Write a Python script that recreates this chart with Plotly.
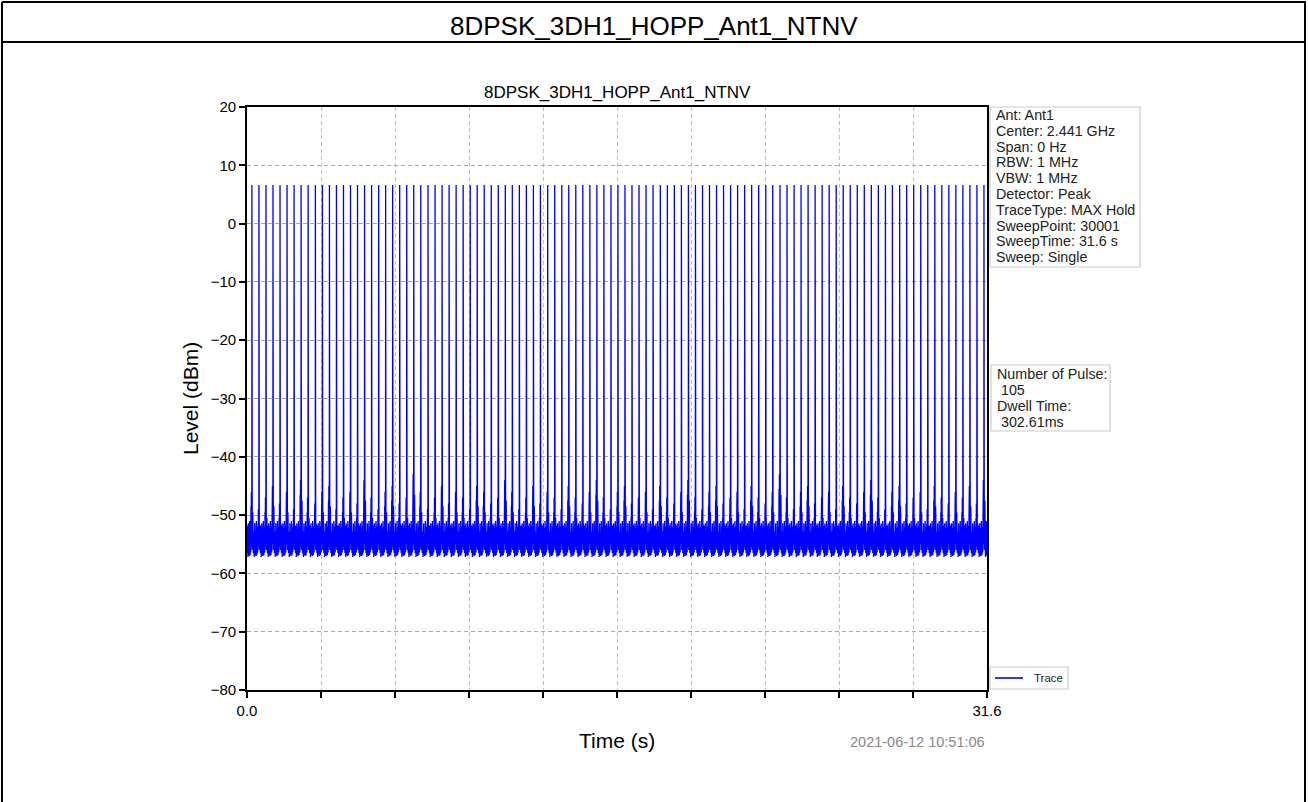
import numpy as np
import plotly.graph_objects as go

# ---------------- data ----------------
chart_title = "8DPSK_3DH1_HOPP_Ant1_NTNV"
x_range = [0.0, 31.6]
y_range = [-80, 20]
x_tick_vals = [0.0, 3.16, 6.32, 9.48, 12.64, 15.8, 18.96, 22.12, 25.28, 28.44, 31.6]
x_tick_text = ["0.0", "", "", "", "", "", "", "", "", "", "31.6"]
y_tick_vals = [20, 10, 0, -10, -20, -30, -40, -50, -60, -70, -80]

pulse_times = [
    0.21, 0.51, 0.81, 1.11, 1.41, 1.71, 2.01, 2.31, 2.61, 2.92,
    3.22, 3.52, 3.82, 4.12, 4.42, 4.72, 5.02, 5.32, 5.62, 5.92,
    6.22, 6.52, 6.82, 7.12, 7.42, 7.73, 8.03, 8.33, 8.63, 8.93,
    9.23, 9.53, 9.83, 10.13, 10.43, 10.73, 11.03, 11.33, 11.63, 11.93,
    12.23, 12.53, 12.84, 13.14, 13.44, 13.74, 14.04, 14.34, 14.64, 14.94,
    15.24, 15.54, 15.84, 16.14, 16.44, 16.74, 17.04, 17.34, 17.65, 17.95,
    18.25, 18.55, 18.85, 19.15, 19.45, 19.75, 20.05, 20.35, 20.65, 20.95,
    21.25, 21.55, 21.85, 22.15, 22.45, 22.76, 23.06, 23.36, 23.66, 23.96,
    24.26, 24.56, 24.86, 25.16, 25.46, 25.76, 26.06, 26.36, 26.66, 26.96,
    27.26, 27.56, 27.87, 28.17, 28.47, 28.77, 29.07, 29.37, 29.67, 29.97,
    30.27, 30.57, 30.87, 31.17, 31.47,
]
pulse_peak_dbm = 6.6
shoulder_dbm = [
    -47, -50, -48, -46, -49, -47, -50, -45, -48, -49,
    -47, -46, -50, -48, -47, -49, -45, -48, -50, -47,
    -46, -49, -48, -44, -47, -50, -48, -46, -49, -47,
    -48, -50, -46, -47, -49, -48, -45, -47, -50, -48,
    -46, -49, -47, -48, -50, -46, -48, -49, -47, -45,
    -48, -50, -47, -46, -49, -48, -47, -50, -46, -48,
    -49, -47, -45, -48, -50, -47, -46, -49, -48, -47,
    -50, -46, -48, -49, -47, -44, -48, -50, -47, -46,
    -49, -48, -47, -50, -46, -48, -49, -47, -45, -48,
    -50, -47, -46, -49, -48, -47, -50, -46, -48, -49,
    -47, -48, -46, -49, -45,
]
floor_pattern_dbm = [-53.0, -56.5, -51.8, -55.8, -52.8, -57.2, -53.6, -55.0,
                     -51.4, -56.8, -52.4, -55.4, -53.4, -57.0, -52.2, -56.0,
                     -51.0, -55.6, -53.0, -56.9, -52.0, -55.2, -52.6, -56.4]
info_lines = ["Ant: Ant1", "Center: 2.441 GHz", "Span: 0 Hz", "RBW: 1 MHz",
              "VBW: 1 MHz", "Detector: Peak", "TraceType: MAX Hold",
              "SweepPoint: 30001", "SweepTime: 31.6 s", "Sweep: Single"]
pulse_lines = ["Number of Pulse:", " 105", "Dwell Time:", " 302.61ms"]
timestamp = "2021-06-12 10:51:06"
trace_name = "Trace"

# ---------------- build trace vertices from the lists ----------------
tx, ty = [], []


def add_floor(t_start, t_end):
    if t_end <= t_start:
        return
    pos = np.linspace(t_start, t_end, len(floor_pattern_dbm) + 2)[1:-1]
    tx.extend(pos.tolist())
    ty.extend(floor_pattern_dbm)


tx.append(x_range[0]); ty.append(floor_pattern_dbm[0])
prev_end = x_range[0]
for tp, sh in zip(pulse_times, shoulder_dbm):
    add_floor(prev_end, tp - 0.045)
    shape = [(-0.040, sh - 1.5), (-0.032, -55.5), (-0.024, sh + 1.0), (-0.017, -54.5),
             (-0.010, sh), (-0.004, -55.0), (0.0, pulse_peak_dbm),
             (0.003, pulse_peak_dbm), (0.0035, -53.5), (0.009, sh + 0.5),
             (0.015, -56.0), (0.022, sh - 1.5), (0.030, -55.0), (0.038, sh - 2.5)]
    for dt, v in shape:
        tx.append(tp + dt); ty.append(v)
    prev_end = tp + 0.045
add_floor(prev_end, x_range[1])
tx.append(x_range[1]); ty.append(floor_pattern_dbm[1])

# ---------------- layout helpers (pixel -> paper) ----------------
W, H = 1308, 802
L, R, T, B = 247, 987, 107, 690


def px(x):
    return (x - L) / (R - L)


def py(y):
    return (B - y) / (B - T)


font_family = "Liberation Sans, Arial, sans-serif"
txt_color = "#222222"

fig = go.Figure()
fig.add_trace(go.Scatter(x=tx, y=ty, mode="lines", name=trace_name,
                         showlegend=False, line=dict(color="#0000FF", width=1.3)))

fig.update_layout(
    width=W, height=H,
    margin=dict(l=L, r=W - R, t=T, b=H - B, autoexpand=False),
    paper_bgcolor="white", plot_bgcolor="white",
    font=dict(family=font_family, color="black", size=15),
    showlegend=False,
)

fig.update_xaxes(range=x_range, tickvals=x_tick_vals, ticktext=x_tick_text,
                 showgrid=True, gridcolor="#c0c0c0", griddash="4px,3px", gridwidth=1,
                 showline=True, linecolor="black", linewidth=1.8, mirror=True,
                 ticks="outside", ticklen=6, tickwidth=1.5, tickcolor="black",
                 tickfont=dict(size=15), zeroline=False)
fig.update_yaxes(range=y_range, tickvals=y_tick_vals,
                 showgrid=True, gridcolor="#a8a8a8", griddash="4px,3px", gridwidth=1,
                 showline=True, linecolor="black", linewidth=1.8, mirror=True,
                 ticks="outside", ticklen=6, tickwidth=1.5, tickcolor="black",
                 tickfont=dict(size=15), zeroline=False)

annotations = [
    dict(text=chart_title, x=px(654), y=py(26), font=dict(size=26)),
    dict(text=chart_title, x=px(617), y=py(92), font=dict(size=17)),
    dict(text="Level (dBm)", x=px(190), y=py(399), textangle=-90, font=dict(size=21)),
    dict(text="Time (s)", x=px(617), y=py(740), font=dict(size=21)),
    dict(text=timestamp, x=px(987), y=py(742), xanchor="right",
         font=dict(size=14.5, color="#888888")),
    dict(text=trace_name, x=px(1032), y=py(678), xanchor="left",
         font=dict(size=11.5, color=txt_color)),
]
for i, line in enumerate(info_lines):
    annotations.append(dict(text=line, x=px(994), y=py(115 + 15.8 * i), xanchor="left",
                            font=dict(size=14.3, color=txt_color)))
for i, line in enumerate(pulse_lines):
    annotations.append(dict(text=line.replace(" ", "&nbsp;"), x=px(995),
                            y=py(374 + 16 * i), xanchor="left",
                            font=dict(size=14.3, color=txt_color)))
for a in annotations:
    a.setdefault("xanchor", "center")
    a.setdefault("yanchor", "middle")
    a.update(xref="paper", yref="paper", showarrow=False)
fig.update_layout(annotations=annotations)

shapes = [
    # page frame and title bar
    dict(type="line", x0=px(2), x1=px(1306), y0=py(2), y1=py(2),
         line=dict(color="black", width=2)),
    dict(type="line", x0=px(2), x1=px(1306), y0=py(42), y1=py(42),
         line=dict(color="black", width=2)),
    dict(type="line", x0=px(2), x1=px(2), y0=py(2), y1=py(802),
         line=dict(color="black", width=2)),
    dict(type="line", x0=px(1305), x1=px(1305), y0=py(2), y1=py(802),
         line=dict(color="black", width=2)),
    # text boxes
    dict(type="rect", x0=px(990), x1=px(1140), y0=py(107), y1=py(267),
         line=dict(color="#cccccc", width=1.2), fillcolor="white", layer="below"),
    dict(type="rect", x0=px(991), x1=px(1110), y0=py(365), y1=py(431),
         line=dict(color="#cccccc", width=1.2), fillcolor="white", layer="below"),
    dict(type="rect", x0=px(990), x1=px(1068), y0=py(667), y1=py(689),
         line=dict(color="#cccccc", width=1.2), fillcolor="white", layer="below"),
    # legend sample line
    dict(type="line", x0=px(995), x1=px(1023), y0=py(678), y1=py(678),
         line=dict(color="#0000FF", width=1.6)),
]
for s in shapes:
    s.update(xref="paper", yref="paper")
    s.setdefault("layer", "above")
fig.update_layout(shapes=shapes)

fig.write_html("out.html", config={"displayModeBar": False},
               post_script="document.body.style.margin='0';")
